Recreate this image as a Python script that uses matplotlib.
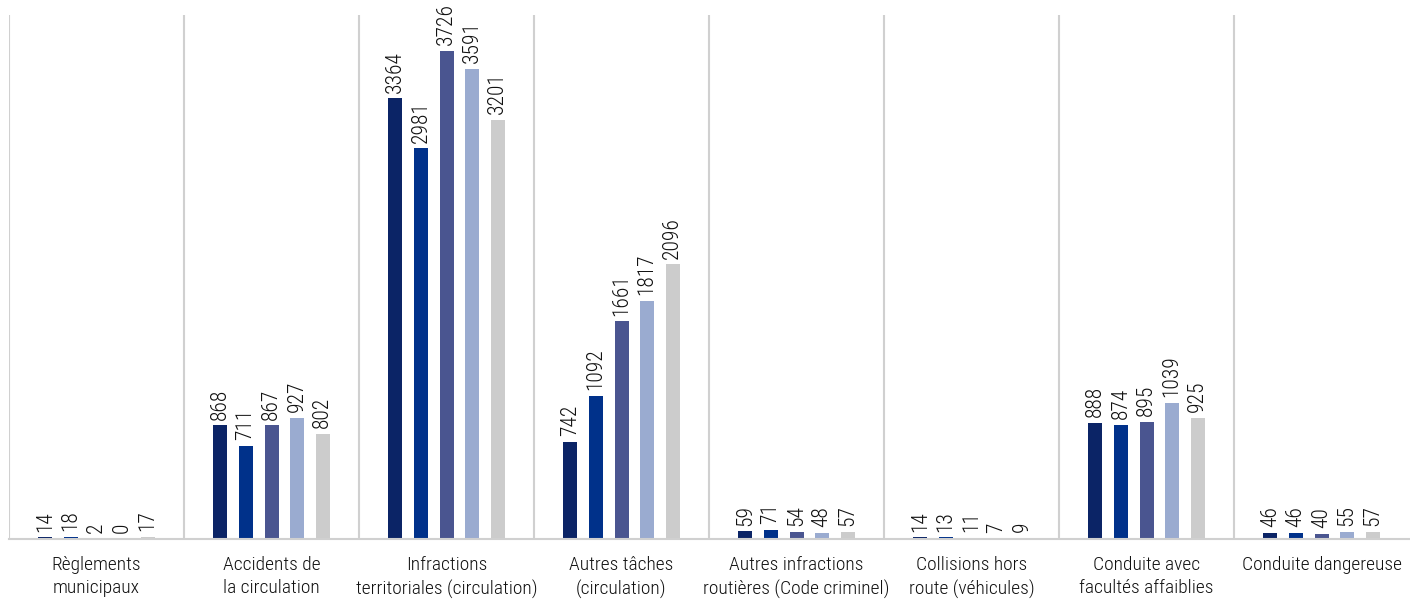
import matplotlib.pyplot as plt
import numpy as np
from matplotlib import font_manager

# categories and values (5 series per category)
categories = ['Règlements\nmunicipaux', 'Accidents de\nla circulation',
              'Infractions\nterritoriales (circulation)', 'Autres tâches\n(circulation)',
              'Autres infractions\nroutières (Code criminel)', 'Collisions hors\nroute (véhicules)',
              'Conduite avec\nfacultés affaiblies', 'Conduite dangereuse']
serie1 = [14, 868, 3364, 742, 59, 14, 888, 46]
serie2 = [18, 711, 2981, 1092, 71, 13, 874, 46]
serie3 = [2, 867, 3726, 1661, 54, 11, 895, 40]
serie4 = [0, 927, 3591, 1817, 48, 7, 1039, 55]
serie5 = [17, 802, 3201, 2096, 57, 9, 925, 57]
series = [serie1, serie2, serie3, serie4, serie5]
colors = ['#0b2466', '#00318a', '#4a5590', '#9aabd0', '#cccccc']

names = set(f.name for f in font_manager.fontManager.ttflist)
fam = 'Roboto'
for cand in ['Roboto Condensed', 'Liberation Sans Narrow', 'Roboto']:
    if cand in names:
        fam = cand
        break
plt.rcParams['font.family'] = [fam, 'DejaVu Sans']

fig = plt.figure(figsize=(14.1, 6), dpi=100)
ax = fig.add_axes([9 / 1410, 61 / 600, 1400 / 1410, 524 / 600])

x = np.arange(len(categories))
step = 0.146
width = 0.08
for i, vals in enumerate(series):
    pos = x + (i - 2) * step
    ax.bar(pos, vals, width=width, color=colors[i], zorder=2)
    for p, v in zip(pos, vals):
        ax.annotate(str(v), (p, v), xytext=(0, 4), textcoords='offset points',
                    rotation=90, ha='center', va='bottom', fontsize=15.5,
                    fontweight='light', color='#111111')

ax.set_xlim(-0.5, len(categories) - 0.5)
ax.set_ylim(0, 4000)
for k in range(len(categories)):
    ax.axvline(k - 0.5, color='#d0d0d0', linewidth=1.5, zorder=1)

ax.set_xticks(x)
ax.set_xticklabels(categories, fontsize=14, color='#111111', linespacing=1.4,
                   fontweight='light')
ax.tick_params(axis='x', length=0, pad=12)
ax.set_yticks([])
for side in ['top', 'right', 'left']:
    ax.spines[side].set_visible(False)
ax.spines['bottom'].set_color('#d0d0d0')
ax.spines['bottom'].set_linewidth(1.5)

fig.savefig('out.png', dpi=100)
